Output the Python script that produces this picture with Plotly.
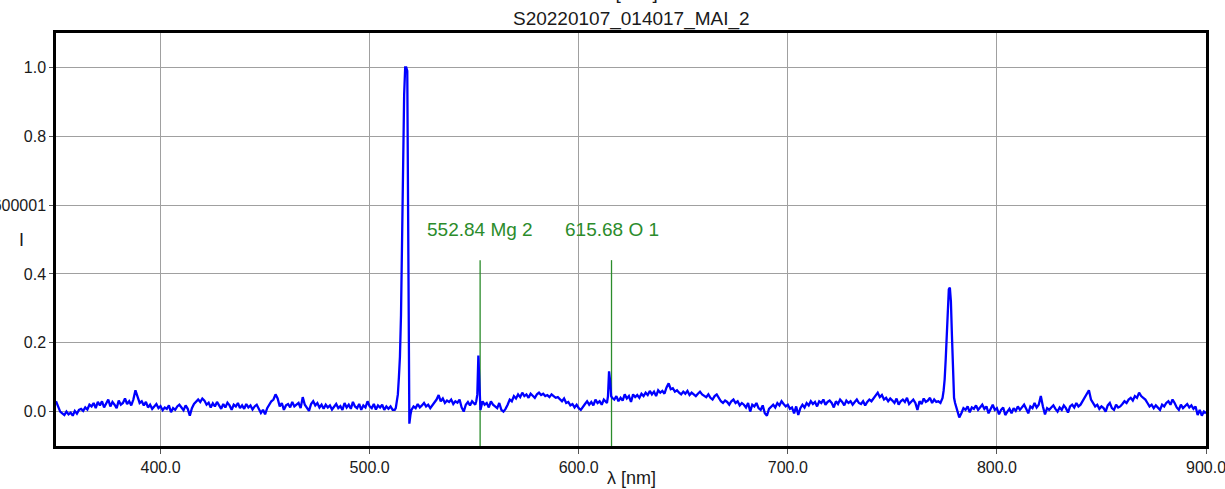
import plotly.graph_objects as go

# Spectrum S20220107_014017_MAI_2, normalised intensity sampled every 1 nm (350..900 nm)
wl_first, wl_last = 350, 900
intensity_1nm = [
    0.03, 0.015, 0.0, -0.005, -0.01, 0.0, -0.008, -0.003, -0.012, 0.002,      # 350
    -0.006, 0.005, 0.008, 0.002, 0.012, 0.006, 0.02, 0.015, 0.025, 0.01,     # 360
    0.028, 0.018, 0.03, 0.012, 0.022, 0.035, 0.015, 0.028, 0.02, 0.01,       # 370
    0.032, 0.02, 0.025, 0.038, 0.022, 0.03, 0.018, 0.035, 0.062, 0.04,       # 380
    0.025, 0.03, 0.018, 0.028, 0.012, 0.02, 0.008, 0.015, 0.022, 0.01,       # 390
    0.016, 0.004, 0.012, 0.008, 0.018, -0.002, 0.01, 0.005, 0.015, 0.02,     # 400
    0.012, 0.004, 0.018, 0.008, -0.012, 0.01, 0.022, 0.03, 0.035, 0.028,     # 410
    0.038, 0.032, 0.02, 0.026, 0.012, 0.024, 0.015, 0.028, 0.018, 0.008,     # 420
    0.022, 0.012, 0.026, 0.018, 0.005, 0.02, 0.015, 0.025, 0.01, 0.018,      # 430
    0.008, 0.022, 0.012, 0.018, 0.006, 0.015, 0.02, 0.01, -0.004, 0.005,     # 440
    -0.008, 0.01, 0.02, 0.03, 0.035, 0.05, 0.038, 0.015, 0.025, 0.005,       # 450
    0.018, 0.022, 0.012, 0.028, 0.015, 0.02, 0.025, 0.01, 0.042, 0.02,       # 460
    0.01, 0.002, 0.022, 0.03, 0.018, 0.025, 0.012, 0.02, 0.008, 0.02,        # 470
    0.012, 0.018, 0.006, 0.015, 0.022, 0.01, 0.016, 0.005, 0.025, 0.012,     # 480
    0.02, 0.008, 0.028, 0.015, 0.01, 0.022, 0.005, 0.018, 0.012, 0.03,       # 490
    0.015, 0.01, 0.022, 0.006, 0.018, 0.012, 0.02, 0.005, 0.015, 0.008,      # 500
    0.015, 0.005, 0.005, 0.025, 0.1, 0.28, 0.72, 1.0, 0.99, -0.035,          # 510
    0.005, 0.015, 0.01, 0.022, 0.012, 0.018, 0.025, 0.015, 0.02, 0.01,       # 520
    0.018, 0.028, 0.035, 0.048, 0.03, 0.038, 0.025, 0.032, 0.028, 0.035,     # 530
    0.022, 0.03, 0.026, 0.035, 0.012, 0.0, 0.02, 0.028, 0.018, 0.03,         # 540
    0.025, 0.03, 0.163, 0.005, 0.03, 0.02, 0.025, 0.012, 0.03, 0.02,         # 550
    0.015, 0.01, 0.025, 0.005, 0.0, 0.008, 0.02, 0.035, 0.03, 0.045,         # 560
    0.038, 0.05, 0.042, 0.055, 0.045, 0.05, 0.04, 0.052, 0.046, 0.04,        # 570
    0.05, 0.055, 0.048, 0.052, 0.045, 0.048, 0.042, 0.05, 0.045, 0.04,       # 580
    0.042, 0.035, 0.03, 0.038, 0.025, 0.028, 0.018, 0.022, 0.012, 0.02,      # 590
    0.01, 0.005, 0.015, 0.022, 0.03, 0.02, 0.028, 0.018, 0.035, 0.025,       # 600
    0.03, 0.02, 0.035, 0.03, 0.045, 0.09, 0.04, 0.035, 0.045, 0.03,          # 610
    0.04, 0.032, 0.05, 0.038, 0.045, 0.028, 0.05, 0.042, 0.048, 0.04,        # 620
    0.052, 0.045, 0.055, 0.048, 0.06, 0.05, 0.058, 0.045, 0.062, 0.055,      # 630
    0.06, 0.052, 0.07, 0.082, 0.065, 0.068, 0.058, 0.062, 0.055, 0.05,       # 640
    0.058, 0.052, 0.06, 0.048, 0.055, 0.05, 0.045, 0.052, 0.058, 0.05,       # 650
    0.045, 0.042, 0.05, 0.04, 0.035, 0.045, 0.05, 0.038, 0.03, 0.025,        # 660
    0.032, 0.028, 0.02, 0.03, 0.035, 0.025, 0.03, 0.018, 0.025, 0.02,        # 670
    0.012, 0.025, 0.0, 0.02, 0.015, 0.025, 0.01, 0.005, 0.018, -0.005,       # 680
    -0.012, 0.008, 0.015, 0.02, 0.012, 0.025, 0.018, 0.03, 0.022, 0.015,     # 690
    0.02, 0.008, 0.012, -0.005, 0.015, -0.01, 0.01, 0.02, 0.012, 0.025,      # 700
    0.018, 0.03, 0.022, 0.028, 0.015, 0.03, 0.025, 0.035, 0.02, 0.028,       # 710
    0.032, 0.025, 0.012, 0.03, 0.022, 0.035, 0.028, 0.018, 0.032, 0.025,     # 720
    0.03, 0.02, 0.028, 0.035, 0.025, 0.022, 0.03, 0.018, 0.028, 0.035,       # 730
    0.03, 0.038, 0.045, 0.055, 0.042, 0.048, 0.035, 0.04, 0.03, 0.038,       # 740
    0.032, 0.025, 0.038, 0.02, 0.03, 0.035, 0.028, 0.04, 0.022, 0.03,        # 750
    0.035, 0.025, 0.005, 0.03, 0.022, 0.038, 0.028, 0.032, 0.04, 0.025,      # 760
    0.035, 0.028, 0.03, 0.025, 0.04, 0.093, 0.22, 0.355, 0.32, 0.1,          # 770
    0.025, 0.0, -0.017, -0.005, 0.01, 0.005, 0.015, -0.002, 0.012, 0.008,    # 780
    0.018, 0.005, 0.012, 0.02, 0.008, 0.015, -0.005, 0.01, 0.02, 0.005,      # 790
    0.01, -0.008, 0.005, 0.012, -0.01, 0.0, 0.008, -0.005, 0.01, 0.002,      # 800
    0.015, 0.005, 0.012, 0.02, 0.008, -0.005, 0.015, 0.01, 0.025, 0.012,     # 810
    0.02, 0.045, 0.015, -0.008, 0.01, 0.005, 0.012, 0.018, 0.008, 0.0,       # 820
    0.012, 0.005, 0.018, 0.01, -0.003, 0.015, 0.02, 0.012, 0.025, 0.015,     # 830
    0.02, 0.03, 0.04, 0.05, 0.062, 0.035, 0.025, 0.015, 0.02, 0.008,         # 840
    0.015, 0.01, 0.0, 0.018, 0.025, 0.01, 0.005, 0.02, 0.012, 0.015,         # 850
    0.022, 0.03, 0.025, 0.035, 0.04, 0.032, 0.045, 0.04, 0.055, 0.045,       # 860
    0.04, 0.035, 0.025, 0.015, 0.02, 0.01, 0.018, 0.012, 0.005, 0.02,        # 870
    0.015, 0.025, 0.03, 0.02, 0.035, 0.025, 0.012, 0.005, 0.02, 0.01,        # 880
    0.015, 0.022, 0.012, 0.018, 0.008, 0.015, -0.01, 0.005, -0.012, 0.0,     # 890
    -0.005,                                                                  # 900
]

# Extra half-nanometre samples across the emission peaks
peak_517_nm = [512.5, 513.5, 514.5, 515.5, 516.5, 517.5, 518.5, 519.5]
peak_517_I = [0.01, 0.05, 0.16, 0.5, 0.92, 1.0, 0.28, -0.01]
peak_552_nm = [550.5, 551.5, 552.5]
peak_552_I = [0.02, 0.05, 0.09]
peak_615_nm = [613.5, 614.5, 615.5]
peak_615_I = [0.025, 0.117, 0.045]
peak_777_nm = [774.5, 775.5, 776.5, 777.5, 778.5, 779.5]
peak_777_I = [0.06, 0.15, 0.31, 0.36, 0.22, 0.04]

# Identified lines
line_nm = [552.84, 615.68]
line_names = ["Mg 2", "O 1"]
line_top = 0.44
line_label_y = 0.53

title_text = "S20220107_014017_MAI_2"
upper_title_text = "I [a.u.]"
x_title = "λ [nm]"
y_title = "I"
y_tick_vals = [0.0, 0.2, 0.4, 0.6, 0.8, 1.0]
y_tick_text = ["0.0", "0.2", "0.4", "0.600001", "0.8", "1.0"]
x_range = [350, 900]
y_range = [-0.1, 1.1]

# merge the 1 nm grid with the peak detail samples
samples = dict(zip(range(wl_first, wl_last + 1), intensity_1nm))
for nms, vals in [(peak_517_nm, peak_517_I), (peak_552_nm, peak_552_I),
                  (peak_615_nm, peak_615_I), (peak_777_nm, peak_777_I)]:
    samples.update(zip(nms, vals))
wavelength = sorted(samples)
intensity = [samples[w] for w in wavelength]

FONT = "Liberation Sans, Arial, sans-serif"
TEXT = "#1a1a1a"
GREEN = "#2b8c2b"
GRID = "#a0a0a0"

fig = go.Figure()

# identified-line markers, drawn beneath the spectrum
for nm in line_nm:
    fig.add_trace(go.Scatter(
        x=[nm, nm], y=[y_range[0], line_top], mode="lines",
        line=dict(color=GREEN, width=1.3), hoverinfo="skip", showlegend=False,
    ))

fig.add_trace(go.Scatter(
    x=wavelength, y=intensity, mode="lines",
    line=dict(color="#0000ff", width=2.3), hoverinfo="skip", showlegend=False,
))

for nm, name in zip(line_nm, line_names):
    fig.add_annotation(
        x=nm, y=line_label_y, xref="x", yref="y", text=f"{nm:.2f} {name}",
        showarrow=False, xanchor="center", yanchor="middle",
        font=dict(family=FONT, size=19, color=GREEN),
    )

W, H = 1225, 489
ML, MR, MT, MB = 56, 19, 33, 43
pw, ph = W - ML - MR, H - MT - MB


def px_x(px):
    return (px - ML) / pw


def px_y(py):
    return (H - MB - py) / ph


# titles
fig.add_annotation(x=0.5, y=px_y(19), xref="paper", yref="paper", text=title_text,
                   showarrow=False, xanchor="center", yanchor="middle",
                   font=dict(family=FONT, size=19, color=TEXT))
fig.add_annotation(x=0.5, y=px_y(-8), xref="paper", yref="paper", text=upper_title_text,
                   showarrow=False, xanchor="center", yanchor="middle",
                   font=dict(family=FONT, size=19, color=TEXT))
fig.add_annotation(x=0.5, y=px_y(478), xref="paper", yref="paper", text=x_title,
                   showarrow=False, xanchor="center", yanchor="middle",
                   font=dict(family=FONT, size=18, color=TEXT))
fig.add_annotation(x=px_x(21.5), y=0.5, xref="paper", yref="paper", text=y_title,
                   showarrow=False, xanchor="center", yanchor="middle",
                   font=dict(family=FONT, size=18, color=TEXT))

fig.update_xaxes(
    range=x_range, tick0=0, dtick=100, tickformat=".1f",
    showgrid=True, gridcolor=GRID, gridwidth=1, zeroline=False,
    showline=True, linecolor="black", linewidth=2.5, mirror=True,
    ticks="outside", ticklen=5, tickcolor="#555555", tickwidth=1,
    ticklabeloverflow="allow",
    tickfont=dict(family=FONT, size=16, color=TEXT),
)
fig.update_yaxes(
    range=y_range, tickvals=y_tick_vals, ticktext=y_tick_text,
    showgrid=True, gridcolor=GRID, gridwidth=1, zeroline=False,
    showline=True, linecolor="black", linewidth=2.5, mirror=True,
    ticks="outside", ticklen=4, tickcolor="#555555", tickwidth=1,
    ticklabeloverflow="allow",
    tickfont=dict(family=FONT, size=16, color=TEXT),
)

fig.update_layout(
    width=W, height=H,
    margin=dict(l=ML, r=MR, t=MT, b=MB, autoexpand=False),
    paper_bgcolor="white", plot_bgcolor="white",
    showlegend=False,
)

fig.write_html("out.html")
